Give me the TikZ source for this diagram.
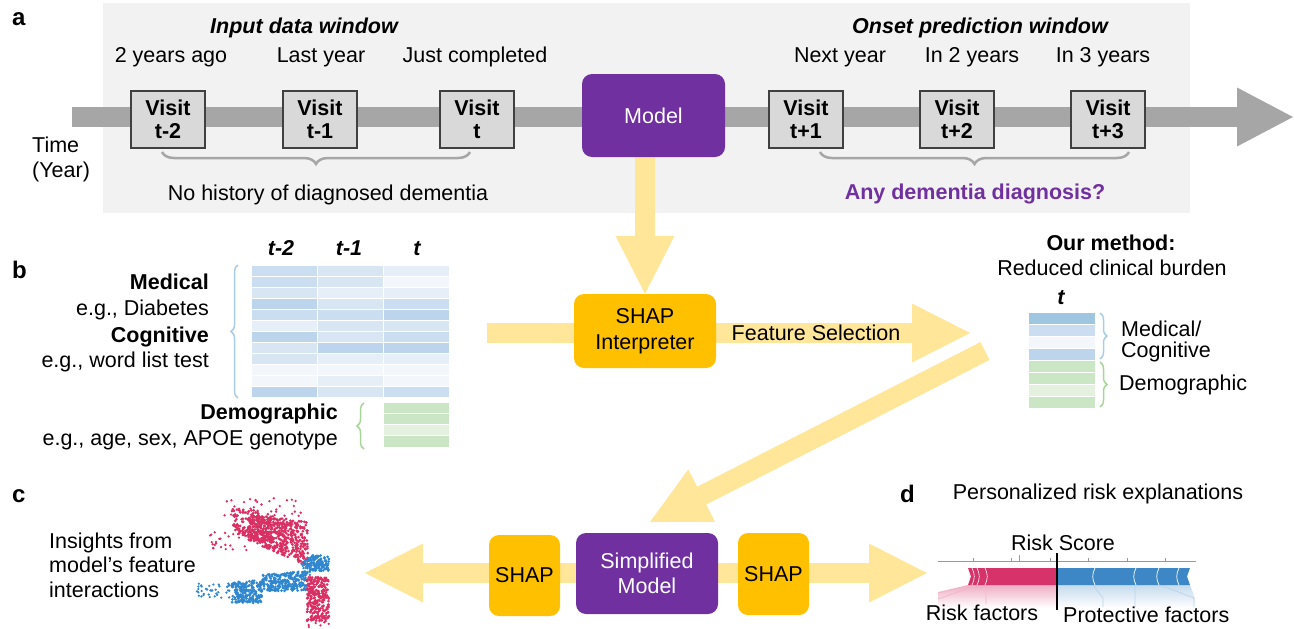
\documentclass[tikz,border=0pt]{standalone}
\usepackage{fontspec}
\setmainfont{Liberation Sans}
\usetikzlibrary{arrows.meta,decorations.pathreplacing,calc}
\definecolor{bgc}{HTML}{F2F2F2}
\definecolor{bandc}{HTML}{A6A6A6}
\definecolor{visitc}{HTML}{D9D9D9}
\definecolor{purp}{HTML}{7030A0}
\definecolor{orng}{HTML}{FFC000}
\definecolor{yarr}{HTML}{FFE699}
\definecolor{bl0}{HTML}{F3F7FC}
\definecolor{bl1}{HTML}{E6EFF8}
\definecolor{bl2}{HTML}{D8E6F4}
\definecolor{bl3}{HTML}{CBDDF0}
\definecolor{bl4}{HTML}{BDD5EC}
\definecolor{bl5}{HTML}{9EC6E0}
\definecolor{gr1}{HTML}{E3F1DE}
\definecolor{gr2}{HTML}{CBE6C5}
\definecolor{brblue}{HTML}{A9CCE8}
\definecolor{brgreen}{HTML}{A8D69A}
\definecolor{shred}{HTML}{D6336A}
\definecolor{shblue}{HTML}{3E87C6}
\definecolor{scred}{HTML}{D92F63}
\definecolor{scblue}{HTML}{2F87D0}
\newcommand\myfs{\fontsize{21.5}{25.5}\selectfont}
% n, x0, w, y0, h, colour
\newcommand\mydots[6]{%
  \foreach \k in {1,...,#1}{%
    \pgfmathsetmacro\xx{#2+#3*rnd}%
    \pgfmathsetmacro\yy{#4+#5*rnd}%
    \fill[#6] (\xx,\yy) circle (1.3pt);
  }}
% n, x0, w, ytop-left, ytop-right, ybottom-left, ybottom-right, colour (#8)
\newcommand\myquad[8]{%
  \foreach \k in {1,...,#1}{%
    \pgfmathsetmacro\uu{rnd}%
    \pgfmathsetmacro\vv{rnd}%
    \pgfmathsetmacro\xx{#2+#3*\uu}%
    \pgfmathsetmacro\yt{#4+(#5-#4)*\uu}%
    \pgfmathsetmacro\yb{#6+(#7-#6)*\uu}%
    \pgfmathsetmacro\yy{\yt+(\yb-\yt)*\vv}%
    \fill[#8] (\xx,\yy) circle (1.5pt);
  }}
\pgfdeclarelayer{bglayer}
\pgfdeclarelayer{midlayer}
\pgfsetlayers{bglayer,midlayer,main}
\tikzset{
  lbl/.style={font=\myfs, inner sep=0pt, text height=15.4pt, text depth=0pt},
  panel/.style={font=\fontsize{24}{28}\selectfont\bfseries, inner sep=0pt, anchor=base west},
  visitbox/.style={draw=black!75, line width=1.4pt, fill=visitc, minimum width=74pt, minimum height=57pt, inner sep=0pt, align=center, font=\fontsize{21.5}{23}\selectfont\bfseries},
  purpbox/.style={fill=purp, rounded corners=10pt, text=white, align=center, inner sep=0pt, font=\myfs},
  orbox/.style={fill=orng, rounded corners=10pt, align=center, inner sep=0pt, font=\myfs},
  yband/.style={draw=yarr, line width=20pt},
  yarrow/.style={draw=yarr, line width=20pt, -{Triangle[length=58pt,width=59pt,line width=0pt]}},
  gbrace/.style={draw=bandc, line width=2.5pt, decorate, decoration={brace,mirror,amplitude=12pt}},
  tbrace/.style={decorate, line width=1.5pt, decoration={brace,amplitude=7pt}},
  cell/.style={draw=white, line width=1pt},
}
\begin{document}
\begin{tikzpicture}[x=1pt,y=-1pt]
\useasboundingbox (0,0) rectangle (1294,629);
% ---------------- panel a ----------------
\begin{pgfonlayer}{bglayer}
\fill[bgc] (103,3) rectangle (1190,213);
\end{pgfonlayer}
\node[panel] (la) at (12,25) {a};
\node[lbl,font=\myfs\bfseries\itshape] (inwin) at (304,26) {Input data window};
\node[lbl,font=\myfs\bfseries\itshape] (onwin) at (980,26) {Onset prediction window};
\node[lbl] (y2) at (171,55) {2 years ago};
\node[lbl] (y1) at (321,55) {Last year};
\node[lbl] (y0) at (475,55) {Just completed};
\node[lbl] (n1) at (840,55) {Next year};
\node[lbl] (n2) at (972,55) {In 2 years};
\node[lbl] (n3) at (1103,55) {In 3 years};
\node[lbl,anchor=west] (time1) at (32,145) {Time};
\node[lbl,anchor=west] (time2) at (32,170) {(Year)};
\node[visitbox] (v1) at (168,119.5) {Visit\\t-2};
\node[visitbox] (v2) at (320,119.5) {Visit\\t-1};
\node[visitbox] (v3) at (477,119.5) {Visit\\t};
\node[visitbox] (v4) at (806,119.5) {Visit\\t+1};
\node[visitbox] (v5) at (957,119.5) {Visit\\t+2};
\node[visitbox] (v6) at (1108,119.5) {Visit\\t+3};
\node[purpbox, minimum width=143pt, minimum height=83pt] (model) at (653.5,115.5) {Model};
\coordinate (tstart) at (72,117);
\coordinate (tend) at (1293,117);
\begin{pgfonlayer}{midlayer}
\draw[line width=20pt, bandc, -{Triangle[length=56pt,width=59pt,line width=0pt]}] (tstart) -- (tend);
\end{pgfonlayer}
\draw[gbrace] (162,152) -- (470,152);
\draw[gbrace] (820,152) -- (1129,152);
\node[lbl] (nohist) at (328,193) {No history of diagnosed dementia};
\node[lbl,font=\myfs\bfseries,text=purp] (anydem) at (975,192) {Any dementia diagnosis?};
% ---------------- panel b ----------------
\node[panel] (lb) at (12,278) {b};
\node[lbl,font=\myfs\bfseries\itshape] (h1) at (281,248) {t-2};
\node[lbl,font=\myfs\bfseries\itshape] (h2) at (349,248) {t-1};
\node[lbl,font=\myfs\bfseries\itshape] (h3) at (417,248) {t};
\foreach \r/\a/\b/\c in {0/3/2/1, 1/3/2/0, 2/2/1/1, 3/4/2/3, 4/3/3/4, 5/1/2/2, 6/4/2/3, 7/2/4/4, 8/2/1/1, 9/0/0/0, 10/0/1/0, 11/4/2/3}{
  \filldraw[cell, fill=bl\a] (251,{265+\r*11.08}) rectangle ++(66.3,11.08);
  \filldraw[cell, fill=bl\b] (317.3,{265+\r*11.08}) rectangle ++(66.3,11.08);
  \filldraw[cell, fill=bl\c] (383.6,{265+\r*11.08}) rectangle ++(66.3,11.08);
}
\foreach \r/\a in {0/2, 1/2, 2/1, 3/2}{
  \filldraw[cell, fill=gr\a] (383.6,{402+\r*11.25}) rectangle ++(66.3,11.25);
}
\draw[tbrace, brblue] (238,398) -- (238,265);
\draw[tbrace, brgreen] (364,449) -- (364,403);
\node[lbl,anchor=east,font=\myfs\bfseries] (med) at (209,282) {Medical};
\node[lbl,anchor=east] (medeg) at (209,308) {e.g., Diabetes};
\node[lbl,anchor=east,font=\myfs\bfseries] (cog) at (209,335) {Cognitive};
\node[lbl,anchor=east] (cogeg) at (209,360) {e.g., word list test};
\node[lbl,anchor=east,font=\myfs\bfseries] (dem) at (338,412) {Demographic};
\node[lbl,anchor=east] (demeg) at (338,438) {e.g., age, sex, APOE genotype};
\node[orbox, minimum width=142pt, minimum height=74pt] (shapint) at (645,331) {SHAP\\Interpreter};
\node[lbl] (fsel) at (816,333) {Feature Selection};
% reduced table
\node[lbl,font=\myfs\bfseries] (ourm) at (1111,243) {Our method:};
\node[lbl] (red) at (1112,268) {Reduced clinical burden};
\node[lbl,font=\myfs\bfseries\itshape] (ht) at (1061,297) {t};
\foreach \r/\a in {0/bl5, 1/bl3, 2/bl0, 3/bl4, 4/gr2, 5/gr2, 6/gr1, 7/gr2}{
  \filldraw[cell, fill=\a] (1028,{312+\r*12}) rectangle ++(67,12);
}
\draw[tbrace, brblue] (1100,313) -- (1100,359);
\draw[tbrace, brgreen] (1100,362) -- (1100,407);
\node[lbl,anchor=west] (medcog1) at (1121,329) {Medical/};
\node[lbl,anchor=west] (medcog2) at (1121,350) {Cognitive};
\node[lbl,anchor=west] (dem2) at (1119,383) {Demographic};
% ---------------- panel c ----------------
\node[panel] (lc) at (12,502) {c};
\node[lbl,anchor=west] (ins1) at (49,541) {Insights from};
\node[lbl,anchor=west] (ins2) at (49,565) {model’s feature};
\node[lbl,anchor=west] (ins3) at (49,590) {interactions};
\pgfmathsetseed{7}
% red upper cluster
\mydots{35}{222}{80}{497}{20}{scred}
\mydots{25}{210}{45}{532}{18}{scred}
\myquad{140}{232}{40}{508}{512}{532}{545}{scred}
\myquad{520}{248}{60}{514}{522}{540}{566}{scred}
% blue
\myquad{120}{307}{22}{555}{555}{571}{571}{scblue}
\myquad{260}{260}{48}{575}{571}{592}{590}{scblue}
\myquad{190}{232}{30}{582}{580}{603}{603}{scblue}
\mydots{40}{196}{38}{583}{15}{scblue}
\mydots{25}{301}{10}{560}{16}{scblue}
% red lower block
\myquad{280}{307}{22}{577}{577}{621}{621}{scred}
\mydots{6}{307}{22}{621}{7}{scred}
\node[orbox, minimum width=71pt, minimum height=81pt] (shapL) at (524.5,575.5) {SHAP};
\node[purpbox, minimum width=142pt, minimum height=81pt] (simp) at (647,573.5) {Simplified\\Model};
\node[orbox, minimum width=71pt, minimum height=82pt] (shapR) at (773.5,574) {SHAP};
% ---------------- panel d ----------------
\node[panel] (ld) at (900,502) {d};
\node[lbl] (pers) at (1098,492) {Personalized risk explanations};
\node[lbl] (rscore) at (1063,543) {Risk Score};
\shade[top color=shred!40, bottom color=white] (968,585) -- (1057,585) -- (1057,608) -- (938,608) -- (938,592) -- cycle;
\shade[top color=shblue!30, bottom color=white] (1057,585) -- (1190,585) -- (1195,598) -- (1195,608) -- (1057,608) -- cycle;
\draw[shred!35, line width=0.8pt] (973,585) -- (938,593) (978,585) -- (938,599) (986,585) -- (986,604);
\draw[shblue!35, line width=0.8pt] (1093,585) -- (1103,598) -- (1103,607) (1135,585) -- (1135,607) (1160,585) -- (1194,598) -- (1194,607);
\draw[gray!80, line width=0.8pt] (938,561) -- (1196,561);
\foreach \t in {973,1011,1050,1088,1127,1165}{\draw[gray!80, line width=0.6pt] (\t,561) -- (\t,558);}
\draw[gray!80, line width=0.6pt] (1019,561) -- (1019,555);
\fill[shred] (968,568) -- (1057,568) -- (1057,585) -- (968,585) -- (971,576.5) -- cycle;
\fill[shblue] (1057,568) -- (1190,568) -- (1187,576.5) -- (1190,585) -- (1057,585) -- cycle;
\foreach \t in {972,977,985}{\draw[white, line width=0.6pt] (\t,568) .. controls (\t+3,574) and (\t+3,579) .. (\t,585);}
\foreach \t in {1095,1136,1159,1179}{\draw[white, line width=0.7pt] (\t,568) .. controls (\t-3,574) and (\t-3,579) .. (\t,585);}
\draw[black, line width=2.2pt] (1057,553) -- (1057,610);
\node[lbl] (rf) at (982,612.5) {Risk factors};
\node[lbl,anchor=west] (pf) at (1063,615) {Protective factors};
% ---------------- yellow connectors ----------------
\coordinate (tabout) at (487,333);
\coordinate (fstip) at (970,333);
\coordinate (dstart) at (985,351);
\coordinate (dend) at (650,522);
\coordinate (ltip) at (365,573);
\coordinate (rtip) at (927,573);
\begin{pgfonlayer}{midlayer}
\draw[yarrow] (model.south -| shapint.north) -- (shapint.north);
\draw[yband] (tabout) -- (tabout -| shapint.west);
\draw[yarrow] (fstip -| shapint.east) -- (fstip);
\draw[yarrow] (dstart) -- (dend);
\draw[yarrow] (ltip -| shapL.west) -- (ltip);
\draw[yband] (ltip -| shapL.east) -- (ltip -| simp.west);
\draw[yband] (ltip -| simp.east) -- (ltip -| shapR.west);
\draw[yarrow] (rtip -| shapR.east) -- (rtip);
\end{pgfonlayer}
\end{tikzpicture}
\end{document}
